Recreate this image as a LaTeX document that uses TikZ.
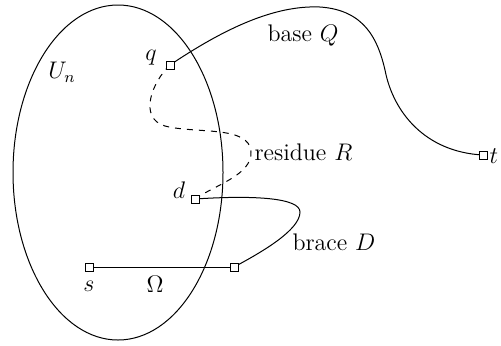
\documentclass[tikz,border=0pt]{standalone}
\begin{document}
\begin{tikzpicture}[x=0.5pt,y=-0.5pt,
  pt/.style={draw,rectangle,fill=white,inner sep=0pt,minimum size=4pt,line width=0.45pt},
  lbl/.style={font=\fontsize{12}{14}\selectfont,inner sep=0pt},
  every path/.style={line width=0.5pt}]
\useasboundingbox (0,0) rectangle (501,345);
\draw (118,172.5) ellipse [x radius=105, y radius=167.5];
% curves first, then points on top
\coordinate (qc) at (170,65);
\coordinate (dc) at (195,199);
\coordinate (sc) at (89,267);
\coordinate (oc) at (234,267);
\coordinate (tc) at (483,155);
\draw (qc) .. controls (225,28) and (275,5) .. (320,7)
  .. controls (365,10) and (378,40) .. (385,70)
  .. controls (393,112) and (425,152) .. (tc);
\draw[dashed] (qc) .. controls (152,82) and (138,118) .. (165,126)
  .. controls (195,134) and (250,125) .. (251,152)
  .. controls (252,175) and (215,185) .. (dc);
\draw (dc) .. controls (255,195) and (300,198) .. (300,212)
  .. controls (300,230) and (262,252) .. (oc);
\draw (sc) -- (oc);
\node[pt] (q) at (qc) {};
\node[pt] (d) at (dc) {};
\node[pt] (s) at (sc) {};
\node[pt] (o) at (oc) {};
\node[pt] (t) at (tc) {};
\node[lbl] (ql) at (151,58) {$q$};
\node[lbl] (dl) at (179,190) {$d$};
\node[lbl] (sl) at (89,286) {$s$};
\node[lbl] (ol) at (155,284) {$\Omega$};
\node[lbl,anchor=west] (tl) at (489,156) {$t$};
\node[lbl] (ul) at (62,72) {$U_n$};
\node[lbl] (bl) at (303,35) {base $Q$};
\node[lbl,anchor=west] (rl) at (254,152) {residue $R$};
\node[lbl,anchor=west] (brl) at (292,242) {brace $D$};
\end{tikzpicture}
\end{document}
